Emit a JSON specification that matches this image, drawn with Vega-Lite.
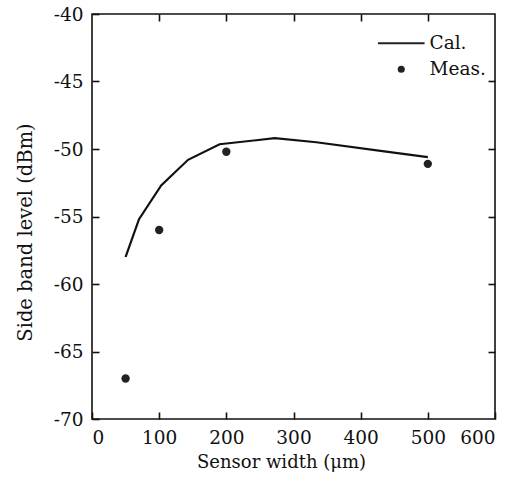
{
  "$schema": "https://vega.github.io/schema/vega-lite/v6.json",
  "width": 403,
  "height": 405,
  "autosize": "none",
  "padding": {"left": 92, "top": 14, "right": 33, "bottom": 62},
  "background": "white",
  "config": {
    "view": {"stroke": "#111", "strokeWidth": 1.6},
    "font": "DejaVu Serif",
    "axis": {
      "domain": false,
      "ticks": true,
      "tickColor": "#111",
      "tickWidth": 1.6,
      "tickSize": 7,
      "tickOpacity": 1,
      "offset": -7,
      "zindex": 1,
      "grid": false,
      "labelFont": "DejaVu Serif",
      "labelFontSize": 18.5,
      "labelColor": "#111",
      "titleFont": "DejaVu Serif",
      "titleFontSize": 18,
      "titleFontWeight": "normal",
      "titleColor": "#111"
    }
  },
  "layer": [
    {
      "data": {"values": [
        {"width": 50, "level": -58.0},
        {"width": 70, "level": -55.2},
        {"width": 103, "level": -52.7},
        {"width": 143, "level": -50.8},
        {"width": 190, "level": -49.65},
        {"width": 272, "level": -49.2},
        {"width": 334, "level": -49.5},
        {"width": 438, "level": -50.2},
        {"width": 500, "level": -50.6}
      ]},
      "mark": {"type": "line", "color": "#111", "strokeWidth": 2.2},
      "encoding": {
        "x": {"field": "width", "type": "quantitative", "scale": {"domain": [0, 600], "nice": false},
          "axis": {"orient": "bottom", "title": "Sensor width (μm)", "values": [0, 100, 200, 300, 400, 500, 600], "labelPadding": 9, "titlePadding": 7, "titleX": 189}},
        "y": {"field": "level", "type": "quantitative", "scale": {"domain": [-70, -40], "nice": false, "zero": false},
          "axis": {"orient": "left", "title": "Side band level (dBm)", "values": [-70, -65, -60, -55, -50, -45, -40], "labelPadding": 9, "titlePadding": 18, "titleFontSize": 19.5, "titleY": 218,
            "labelExpr": "datum.value < 0 ? '-' + abs(datum.value) : '' + datum.value"}}
      }
    },
    {
      "data": {"values": [
        {"width": 50, "level": -67.0, "series": "Meas."},
        {"width": 100, "level": -56.0, "series": "Meas."},
        {"width": 200, "level": -50.2, "series": "Meas."},
        {"width": 500, "level": -51.1, "series": "Meas."}
      ]},
      "mark": {"type": "point", "filled": true, "color": "#222", "size": 70, "opacity": 1},
      "encoding": {
        "x": {"field": "width", "type": "quantitative", "scale": {"domain": [0, 600], "nice": false},
          "axis": {"orient": "top", "labels": false, "title": null, "values": [100, 200, 300, 400, 500]}},
        "y": {"field": "level", "type": "quantitative", "scale": {"domain": [-70, -40], "nice": false, "zero": false},
          "axis": {"orient": "right", "labels": false, "title": null, "values": [-65, -60, -55, -50, -45]}},
        "shape": {"field": "series", "type": "nominal",
          "scale": {"domain": ["Cal.", "Meas."], "range": ["M-6.6,-0.3L6.6,-0.3L6.6,0.3L-6.6,0.3Z", "circle"]},
          "legend": {
            "orient": "none", "legendX": 300, "legendY": 20, "title": null,
            "labelFont": "DejaVu Serif", "labelFontSize": 18.5, "labelColor": "#111",
            "symbolSize": 50, "labelOffset": 19, "rowPadding": 7,
            "symbolFillColor": "#111", "symbolStrokeWidth": 0, "symbolOpacity": 1
          }}
      }
    }
  ],
  "resolve": {"axis": {"x": "independent", "y": "independent"}}
}
